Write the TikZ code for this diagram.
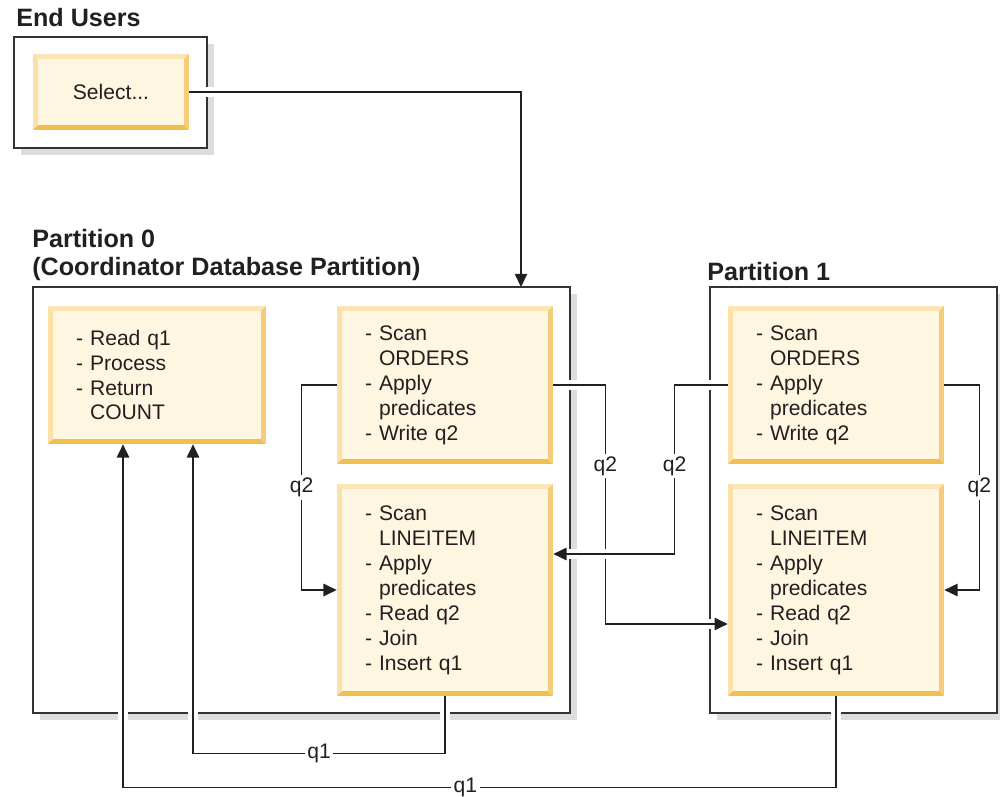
\documentclass[tikz,border=0pt]{standalone}
\usepackage{fontspec}
\setmainfont{Liberation Sans}
\usetikzlibrary{arrows.meta,shadows}
\definecolor{ink}{HTML}{231F20}
\definecolor{frm}{HTML}{333333}
\definecolor{shd}{HTML}{DCDDDF}
\definecolor{boxfill}{HTML}{FEF6E0}
\definecolor{bevtop}{HTML}{FCE5B4}
\definecolor{bevlft}{HTML}{FBE0A8}
\definecolor{bevbot}{HTML}{F0BF50}
\definecolor{bevrgt}{HTML}{F5CC7A}
\newcommand{\bodyfont}{\fontsize{12}{14.2}\selectfont}
\newcommand{\ttlfont}{\fontsize{14.3}{17}\selectfont\bfseries}
\newcommand{\hng}{\hphantom{- }}
\tikzset{
  frame/.style={rectangle,draw=frm,fill=white,line width=1pt,inner sep=0pt,
    drop shadow={shadow xshift=4pt,shadow yshift=-4pt,fill=shd,opacity=1}},
  % a task box: cream face with a bevelled rim, light on top/left, dark below/right
  tsk/.style={rectangle,fill=boxfill,inner xsep=0.56cm,inner ysep=0pt,align=left,
    font=\bodyfont,text=ink,
    path picture={
      \path (path picture bounding box.north west) coordinate (pnw)
            (path picture bounding box.north east) coordinate (pne)
            (path picture bounding box.south west) coordinate (psw)
            (path picture bounding box.south east) coordinate (pse);
      \fill[bevtop] (pnw) -- (pne) -- ([shift={(-2.8pt,-2.8pt)}]pne) -- ([shift={(2.8pt,-2.8pt)}]pnw) -- cycle;
      \fill[bevlft] (pnw) -- ([shift={(2.8pt,-2.8pt)}]pnw) -- ([shift={(2.8pt,2.8pt)}]psw) -- (psw) -- cycle;
      \fill[bevbot] (psw) -- (pse) -- ([shift={(-2.8pt,2.8pt)}]pse) -- ([shift={(2.8pt,2.8pt)}]psw) -- cycle;
      \fill[bevrgt] (pne) -- (pse) -- ([shift={(-2.8pt,2.8pt)}]pse) -- ([shift={(-2.8pt,-2.8pt)}]pne) -- cycle;
    }},
  ttl/.style={font=\ttlfont,text=ink,inner sep=0pt,anchor=base west},
  cn/.style={draw=ink,line width=.9pt,
    preaction={draw=white,line width=5.5pt,-,shorten >=2.5pt}},
  arr/.style={cn,-{Triangle[length=7.5pt,width=7pt]}},
  lbl/.style={font=\bodyfont,text=ink,fill=white,inner sep=1.5pt},
}
\begin{document}
\begin{tikzpicture}[x=0.02cm,y=-0.02cm]
\useasboundingbox (0,0) rectangle (1000,797);
% ============================= frames and titles
\node[ttl] (tEU) at (16,27) {End Users};
\node[frame,minimum width=3.86cm,minimum height=2.22cm] (EU) at (110.5,92.5) {};
\node[ttl] (tP0) at (32,247) {Partition 0};
\node[ttl] (tP0b) at (32,275) {(Coordinator Database Partition)};
\node[frame,minimum width=10.74cm,minimum height=8.52cm] (P0) at (301.5,500) {};
\node[ttl] (tP1) at (707,280) {Partition 1};
\node[frame,minimum width=5.74cm,minimum height=8.52cm] (P1) at (853.5,500) {};
% ============================= task boxes
\node[tsk,align=center,inner xsep=0pt,minimum width=3.12cm,minimum height=1.52cm] (sel) at (111,92) {Select...};
\node[tsk,text width=3.24cm,minimum height=2.76cm] (A0) at (157,375)
  {- Read q1\\- Process\\- Return\\\hng COUNT};
\node[tsk,text width=3.2cm,minimum height=3.16cm] (B0) at (445,385)
  {- Scan\\\hng ORDERS\\- Apply\\\hng predicates\\- Write q2};
\node[tsk,text width=3.2cm,minimum height=4.24cm] (C0) at (445,590)
  {- Scan\\\hng LINEITEM\\- Apply\\\hng predicates\\- Read q2\\- Join\\- Insert q1};
\node[tsk,text width=3.2cm,minimum height=3.16cm] (B1) at (836,385)
  {- Scan\\\hng ORDERS\\- Apply\\\hng predicates\\- Write q2};
\node[tsk,text width=3.2cm,minimum height=4.24cm] (C1) at (836,590)
  {- Scan\\\hng LINEITEM\\- Apply\\\hng predicates\\- Read q2\\- Join\\- Insert q1};
% ============================= connectors
\coordinate (sdrop) at (521,287);
\draw[arr] (sel.east) -| (sdrop);
\draw[arr] (B0.west) -- ++(-35,0) |- (C0.west) node[lbl,pos=.25] {q2};
\draw[arr] (B0.east) -- ++(52,0) |- ([shift={(0,34)}]C1.west) node[lbl,pos=.17] {q2};
\draw[arr] (B1.west) -- ++(-53,0) |- ([shift={(0,-36)}]C0.east) node[lbl,pos=.24] {q2};
\draw[arr] (B1.east) -- ++(35,0) |- (C1.east) node[lbl,pos=.25] {q2};
\draw[arr] (C0.south) -- ++(0,57) -| ([shift={(36,0)}]A0.south) node[lbl,pos=.25] {q1};
\draw[arr] (C1.south) -- ++(0,91) -| ([shift={(-34,0)}]A0.south) node[lbl,pos=.26] {q1};
\end{tikzpicture}
\end{document}
